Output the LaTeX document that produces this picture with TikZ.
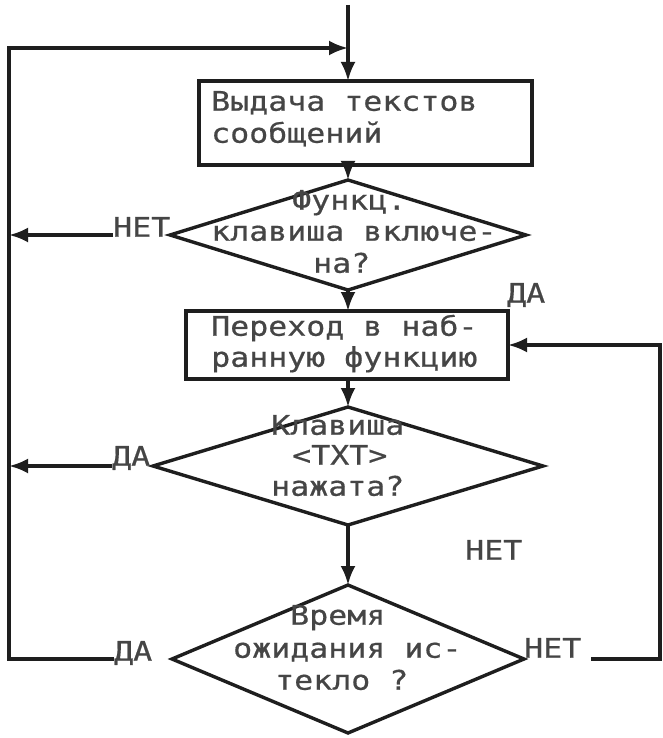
\documentclass[tikz,border=0pt]{standalone}
\usepackage{fontspec}
\setmainfont{DejaVu Sans Mono}[FakeStretch=1.17,FakeBold=0.6]
\usetikzlibrary{shapes.geometric,arrows.meta}
\definecolor{ink}{HTML}{1E1E1E}
\definecolor{txtc}{HTML}{454545}
\begin{document}
\begin{tikzpicture}[x=1pt,y=-1pt,
  line/.style={line width=3.4pt, draw=ink},
  arr/.style={line, -{Latex[length=19pt,width=15pt]}},
  box/.style={rectangle, line, inner sep=0pt, outer sep=0pt},
  dia/.style={diamond, line, inner sep=0pt, outer sep=0pt},
  txt/.style={font=\fontsize{27}{27}\selectfont, text=txtc, inner sep=0pt, anchor=mid west},
  lbl/.style={txt}
]
\path[fill=white, use as bounding box] (0,0) rectangle (663,738);

\coordinate (t0) at (348,5);
\coordinate (j) at (348,48);
\coordinate (lx) at (9,0);
\coordinate (rx) at (660,0);

% blocks
\node[box, minimum width=333pt, minimum height=84pt] (b1) at (365.5,123) {};
\node[dia, minimum width=356pt, minimum height=110pt] (d1) at (348,235) {};
\node[box, minimum width=322pt, minimum height=68pt] (b2) at (347,345) {};
\node[dia, minimum width=390pt, minimum height=118pt] (d2) at (348,466) {};
\node[dia, minimum width=352pt, minimum height=148pt] (d3) at (348,659) {};

% texts
\node[txt] (t1a) at (211,108) {Выдача текстов};
\node[txt] (t1b) at (211,140) {сообщений};
\node[txt] (t2a) at (211,333) {Переход в наб-};
\node[txt] (t2b) at (211,364) {ранную функцию};
\node[txt] (d1a) at (292,207) {Функц.};
\node[txt] (d1b) at (211,238) {клавиша включе-};
\node[txt] (d1c) at (313,270) {на?};
\node[txt] (d2a) at (271,432) {Клавиша};
\node[txt] (d2b) at (292,462) {<TXT>};
\node[txt] (d2c) at (271,493) {нажата?};
\node[txt] (d3a) at (290,622) {Время};
\node[txt] (d3b) at (233,655) {ожидания ис-};
\node[txt] (d3c) at (275,687) {текло ?};

% labels
\node[lbl] (n1) at (113,234) {НЕТ};
\node[lbl] (y1) at (507,300) {ДА};
\node[lbl] (y2) at (112,463) {ДА};
\node[lbl] (n2) at (465,557) {НЕТ};
\node[lbl] (y3) at (114,658) {ДА};
\node[lbl] (n3) at (524,655) {НЕТ};

% connectors
\draw[arr] (t0) -- (t0 |- b1.north);
\draw[arr] (y3.west |- d3.west) -- (lx |- d3.west) -- (lx |- j) -- (j);
\draw[arr] (b1.south -| d1.north) -- (d1.north);
\draw[arr] (n1.west |- d1.west) -- (lx |- d1.west);
\draw[arr] (d1.south) -- (d1.south |- b2.north);
\draw[arr] (b2.south -| d2.north) -- (d2.north);
\draw[arr] (y2.west |- d2.west) -- (lx |- d2.west);
\draw[arr] (d2.south) -- (d3.north);
\draw[arr] ([xshift=10pt]n3.east |- d3.east) -- (rx |- d3.east) -- (rx |- b2.east) -- (b2.east);
\end{tikzpicture}
\end{document}
